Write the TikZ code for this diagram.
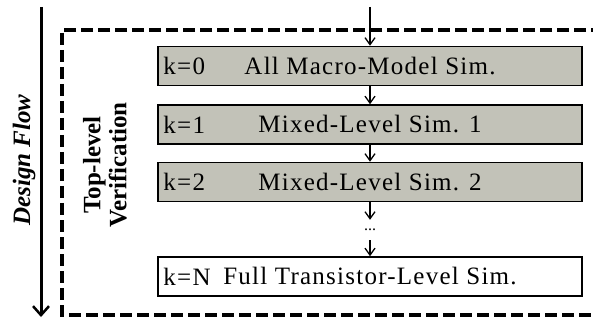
\documentclass[tikz,border=0pt]{standalone}
\usepackage{fontspec}
\setmainfont{Liberation Serif}
\newfontfamily\boxfont[LetterSpace=5]{Liberation Serif}
\usetikzlibrary{arrows.meta}
\definecolor{boxgray}{RGB}{194,194,184}
\tikzset{
  simbox/.style={draw=black, line width=1.5pt, fill=boxgray, minimum width=424pt, minimum height=39pt, inner sep=0pt, font=\boxfont\fontsize{25}{28}\selectfont},
  plainbox/.style={simbox, fill=white},
  klabel/.style={anchor=west, inner sep=0pt, font=\boxfont\fontsize{25}{28}\selectfont},
  flowarrow/.style={line width=1.3pt, -{Straight Barb[length=7pt,width=10pt,line width=1.3pt]}},
  vlabel/.style={rotate=90, inner sep=0pt, align=center, font=\fontsize{25}{26}\selectfont\bfseries},
  frame/.style={line width=4pt, dash pattern=on 12pt off 5pt}
}
\begin{document}
\begin{tikzpicture}[x=1pt, y=-1pt]
\useasboundingbox (0,0) rectangle (593,320);
\clip (0,0) rectangle (593,320);
% dashed frame
\draw[frame] (620,30) -- (62,30) -- (62,315) -- (620,315);
% design flow
\coordinate (dftop) at (41,7);
\coordinate (dfbot) at (41,317);
\draw[line width=3pt, -{Straight Barb[length=9pt,width=16pt,line width=2.5pt]}] (dftop) -- (dfbot);
\node[vlabel, font=\fontsize{25}{26}\selectfont\bfseries\itshape] (df) at (24,160) {Design Flow};
\node[vlabel] (tlv) at (105,165) {Top-level\\Verification};
% boxes
\node[simbox] (b0) at (370,66) {All Macro-Model Sim.};
\node[simbox] (b1) at (370,124.5) {Mixed-Level Sim. 1};
\node[simbox] (b2) at (370,182) {Mixed-Level Sim. 2};
\node[plainbox] (bN) at (370,276.5) {Full Transistor-Level Sim.};
\node[klabel] (k0) at ([xshift=6pt]b0.west) {k=0};
\node[klabel] (k1) at ([xshift=6pt]b1.west) {k=1};
\node[klabel] (k2) at ([xshift=6pt]b2.west) {k=2};
\node[klabel] (kN) at ([xshift=6pt]bN.west) {k=N};
% arrows
\coordinate (in) at (370,7);
\node[inner sep=0pt, minimum height=20pt, font=\fontsize{16}{16}\selectfont] (dots) at (370,230) {...};
\draw[flowarrow] (in) -- (b0.north);
\draw[flowarrow] (b0.south) -- (b1.north);
\draw[flowarrow] (b1.south) -- (b2.north);
\draw[flowarrow] (b2.south) -- (dots.north);
\draw[flowarrow] (dots.south) -- (bN.north);
\end{tikzpicture}
\end{document}
